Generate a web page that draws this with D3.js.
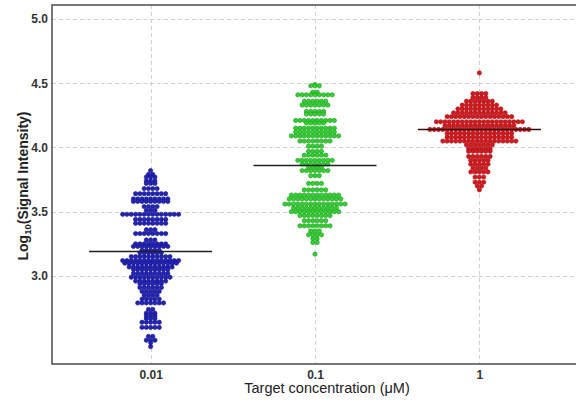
<!DOCTYPE html>
<html>
<head>
<meta charset="utf-8">
<script src="https://cdn.jsdelivr.net/npm/d3@7"></script>
<style>
  html, body { margin: 0; padding: 0; background: #fff; }
  svg { display: block; font-family: "Liberation Sans", Arial, sans-serif; }
</style>
</head>
<body>
<svg id="chart" width="576" height="402"></svg>
<script>
// Concentration groups along the x axis
const categories = ["0.01", "0.1", "1"];

// Each swarm row: [log10 signal level, number of wells at that level]
const rows001 = [
  [3.82, 1], [3.79, 2], [3.77, 3], [3.74, 3], [3.72, 3], [3.68, 4],
  [3.64, 8], [3.60, 9], [3.58, 9], [3.54, 4], [3.51, 3], [3.48, 14],
  [3.44, 8], [3.41, 8], [3.36, 3], [3.33, 8], [3.28, 3], [3.25, 8],
  [3.23, 9], [3.20, 5], [3.18, 6], [3.15, 10], [3.12, 14], [3.10, 13],
  [3.07, 11], [3.05, 9], [3.02, 9], [2.99, 10], [2.96, 8], [2.94, 6],
  [2.91, 6], [2.88, 5], [2.85, 4], [2.82, 5], [2.79, 7], [2.74, 2],
  [2.71, 3], [2.69, 3], [2.67, 3], [2.64, 5], [2.60, 5], [2.53, 2],
  [2.50, 3], [2.48, 1], [2.45, 1]
];
const rows01 = [
  [4.49, 1], [4.48, 3], [4.43, 2], [4.41, 9], [4.36, 6], [4.33, 7],
  [4.28, 5], [4.26, 5], [4.21, 10], [4.19, 5], [4.15, 10], [4.12, 10],
  [4.09, 12], [4.05, 8], [4.01, 4], [3.97, 4], [3.94, 6], [3.90, 9],
  [3.87, 7], [3.85, 4], [3.82, 7], [3.78, 3], [3.72, 4], [3.67, 6],
  [3.63, 12], [3.60, 13], [3.56, 15], [3.53, 11], [3.50, 12], [3.47, 8],
  [3.43, 6], [3.39, 8], [3.35, 3], [3.32, 4], [3.29, 2], [3.26, 2],
  [3.17, 1]
];
const rows1 = [
  [4.58, 1], [4.42, 4], [4.39, 4], [4.36, 7], [4.33, 9], [4.30, 11],
  [4.27, 13], [4.24, 16], [4.20, 21], [4.17, 17], [4.14, 24], [4.11, 16],
  [4.08, 16], [4.05, 18], [4.02, 7], [3.99, 6], [3.97, 6], [3.93, 6],
  [3.90, 5], [3.87, 5], [3.84, 4], [3.81, 5], [3.77, 3], [3.73, 3],
  [3.70, 2], [3.67, 1]
];

// Group means drawn as horizontal bars
const means = [3.19, 3.86, 4.14];

// Axis ticks
const yTicks = [3.0, 3.5, 4.0, 4.5, 5.0];

const groups = [
  { rows: rows001, fill: "#2323b4", stroke: "#16168a", bar: "#222" },
  { rows: rows01,  fill: "#33d033", stroke: "#1c9a1c", bar: "#222" },
  { rows: rows1,   fill: "#d4191e", stroke: "#a51014", bar: "#3a0808" }
];

const svg = d3.select("#chart");
const margin = { left: 52, top: 5, right: 578, bottom: 364 };

const x = d3.scaleLinear().domain([-0.6, 2.6]).range([margin.left, margin.right]);
const y = d3.scaleLinear().domain([2.315, 5.109]).range([margin.bottom, margin.top]);

// Dashed grid
const grid = svg.append("g").attr("stroke", "#cfcfcf").attr("stroke-dasharray", "4,3").attr("stroke-width", 1);
grid.selectAll("line.h").data(yTicks).join("line")
  .attr("x1", margin.left).attr("x2", margin.right)
  .attr("y1", d => Math.round(y(d)) + 0.5).attr("y2", d => Math.round(y(d)) + 0.5);
grid.selectAll("line.v").data(categories).join("line")
  .attr("y1", margin.top).attr("y2", margin.bottom)
  .attr("x1", (d, i) => Math.round(x(i)) + 0.5).attr("x2", (d, i) => Math.round(x(i)) + 0.5);

// Swarm dots
const pitch = 4.3;
groups.forEach((g, gi) => {
  const pts = [];
  g.rows.forEach(([v, n]) => {
    for (let k = 0; k < n; k++) pts.push({ v, off: (k - (n - 1) / 2) * pitch });
  });
  svg.append("g").selectAll("circle").data(pts).join("circle")
    .attr("cx", d => x(gi) + d.off)
    .attr("cy", d => y(d.v))
    .attr("r", 2.15)
    .attr("fill", g.fill)
    .attr("stroke", g.stroke)
    .attr("stroke-width", 0.6);
});

// Mean bars
svg.append("g").selectAll("line").data(means).join("line")
  .attr("x1", (d, i) => x(i) - 61.5)
  .attr("x2", (d, i) => x(i) + 61.5)
  .attr("y1", d => y(d)).attr("y2", d => y(d))
  .attr("stroke", (d, i) => groups[i].bar).attr("stroke-width", 1.5);

// Frame
svg.append("rect")
  .attr("x", margin.left).attr("y", margin.top)
  .attr("width", margin.right - margin.left).attr("height", margin.bottom - margin.top)
  .attr("fill", "none").attr("stroke", "#555").attr("stroke-width", 1.6);

// Y axis labels
const yAxis = d3.axisLeft(y).tickValues(yTicks).tickFormat(d3.format(".1f")).tickSize(0).tickPadding(4);
const yg = svg.append("g").attr("transform", `translate(${margin.left},0)`).call(yAxis);
yg.select(".domain").remove();
yg.selectAll("text").attr("font-size", 12).attr("font-weight", "bold").attr("fill", "#333")
  .attr("font-family", "Liberation Sans, Arial, sans-serif");

// X axis labels
const xAxis = d3.axisBottom(x).tickValues([0, 1, 2]).tickFormat(i => categories[i]).tickSize(0).tickPadding(6);
const xg = svg.append("g").attr("transform", `translate(0,${margin.bottom})`).call(xAxis);
xg.select(".domain").remove();
xg.selectAll("text").attr("font-size", 12).attr("font-weight", "bold").attr("fill", "#333")
  .attr("font-family", "Liberation Sans, Arial, sans-serif");

// Axis titles
const yTitle = svg.append("text")
  .attr("transform", `translate(28,186) rotate(-90)`)
  .attr("text-anchor", "middle")
  .attr("font-size", 14).attr("font-weight", "bold").attr("fill", "#222");
yTitle.append("tspan").text("Log");
yTitle.append("tspan").attr("font-size", 9.5).attr("dy", 3).text("10");
yTitle.append("tspan").attr("dy", -3).text("(Signal Intensity)");

svg.append("text")
  .attr("x", 327).attr("y", 393)
  .attr("text-anchor", "middle")
  .attr("font-size", 14.5).attr("fill", "#222")
  .text("Target concentration (\u03bcM)");
</script>
</body>
</html>
